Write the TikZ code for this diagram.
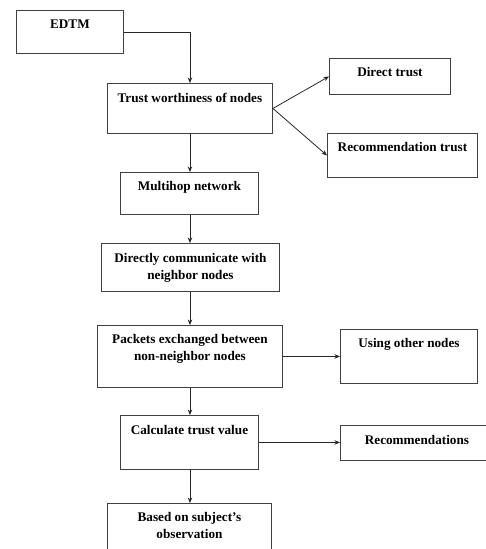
\documentclass[tikz,border=0pt]{standalone}
\usepackage{fontspec}
\setmainfont{Liberation Serif}
\usetikzlibrary{arrows.meta}

\tikzset{
  box/.style={draw=black!75, line width=0.9pt, anchor=north west, inner sep=0pt},
  txt/.style={anchor=north, inner sep=0pt, align=center,
    font=\fontsize{13.2}{17}\selectfont\bfseries},
  link/.style={->, line width=0.8pt, draw=black!85}
}

\begin{document}
\begin{tikzpicture}[>={Stealth[length=5.5pt,width=4.5pt]}, x=1pt, y=-1pt]
  \useasboundingbox (0,0) rectangle (486,549);
  \clip (0,0) rectangle (486,549);
  % boxes
  \node[box, minimum width=107, minimum height=43] (edtm) at (16,10) {};
  \node[box, minimum width=165, minimum height=50] (trust) at (107,83) {};
  \node[box, minimum width=121, minimum height=36] (direct) at (329,58) {};
  \node[box, minimum width=150, minimum height=44] (rectrust) at (327,133) {};
  \node[box, minimum width=138, minimum height=42] (multi) at (120,172) {};
  \node[box, minimum width=178, minimum height=48] (comm) at (101,243) {};
  \node[box, minimum width=185, minimum height=62] (packets) at (97,325) {};
  \node[box, minimum width=137, minimum height=54] (using) at (340,329) {};
  \node[box, minimum width=138, minimum height=54] (calc) at (120,415) {};
  \node[box, minimum width=153, minimum height=35] (recs) at (340,425) {};
  \node[box, minimum width=164, minimum height=70] (based) at (107,503) {};
  % texts
  \node[txt] (edtmtxt) at ([yshift=-10pt]edtm.north) {EDTM};
  \node[txt] (trusttxt) at ([yshift=-10pt]trust.north) {Trust worthiness of nodes};
  \node[txt] (directtxt) at ([yshift=-9pt]direct.north) {Direct trust};
  \node[txt] (rectrusttxt) at ([yshift=-9pt]rectrust.north) {Recommendation trust};
  \node[txt] (multitxt) at ([yshift=-9pt]multi.north) {Multihop network};
  \node[txt] (commtxt) at ([yshift=-10pt]comm.north) {Directly communicate with\\neighbor nodes};
  \node[txt] (packetstxt) at ([yshift=-9pt]packets.north) {Packets exchanged between\\non-neighbor nodes};
  \node[txt] (usingtxt) at ([yshift=-9pt]using.north) {Using other nodes};
  \node[txt] (calctxt) at ([yshift=-10pt]calc.north) {Calculate trust value};
  \node[txt] (recstxt) at ([yshift=-10pt]recs.north) {Recommendations};
  \node[txt] (basedtxt) at ([yshift=-9pt]based.north) {Based on subject's\\observation};
  % arrows
  \draw[link] (edtm.east) -| (trust.north);
  \draw[link] (trust.east) -- (direct.west);
  \draw[link] (trust.east) -- (rectrust.west);
  \draw[link] (trust.south) -- (trust.south |- multi.north);
  \draw[link] (trust.south |- multi.south) -- (trust.south |- comm.north);
  \draw[link] (trust.south |- comm.south) -- (trust.south |- packets.north);
  \draw[link] (packets.east) -- (packets.east -| using.west);
  \draw[link] (trust.south |- packets.south) -- (trust.south |- calc.north);
  \draw[link] (calc.east) -- (calc.east -| recs.west);
  \draw[link] (trust.south |- calc.south) -- (trust.south |- based.north);
\end{tikzpicture}
\end{document}
